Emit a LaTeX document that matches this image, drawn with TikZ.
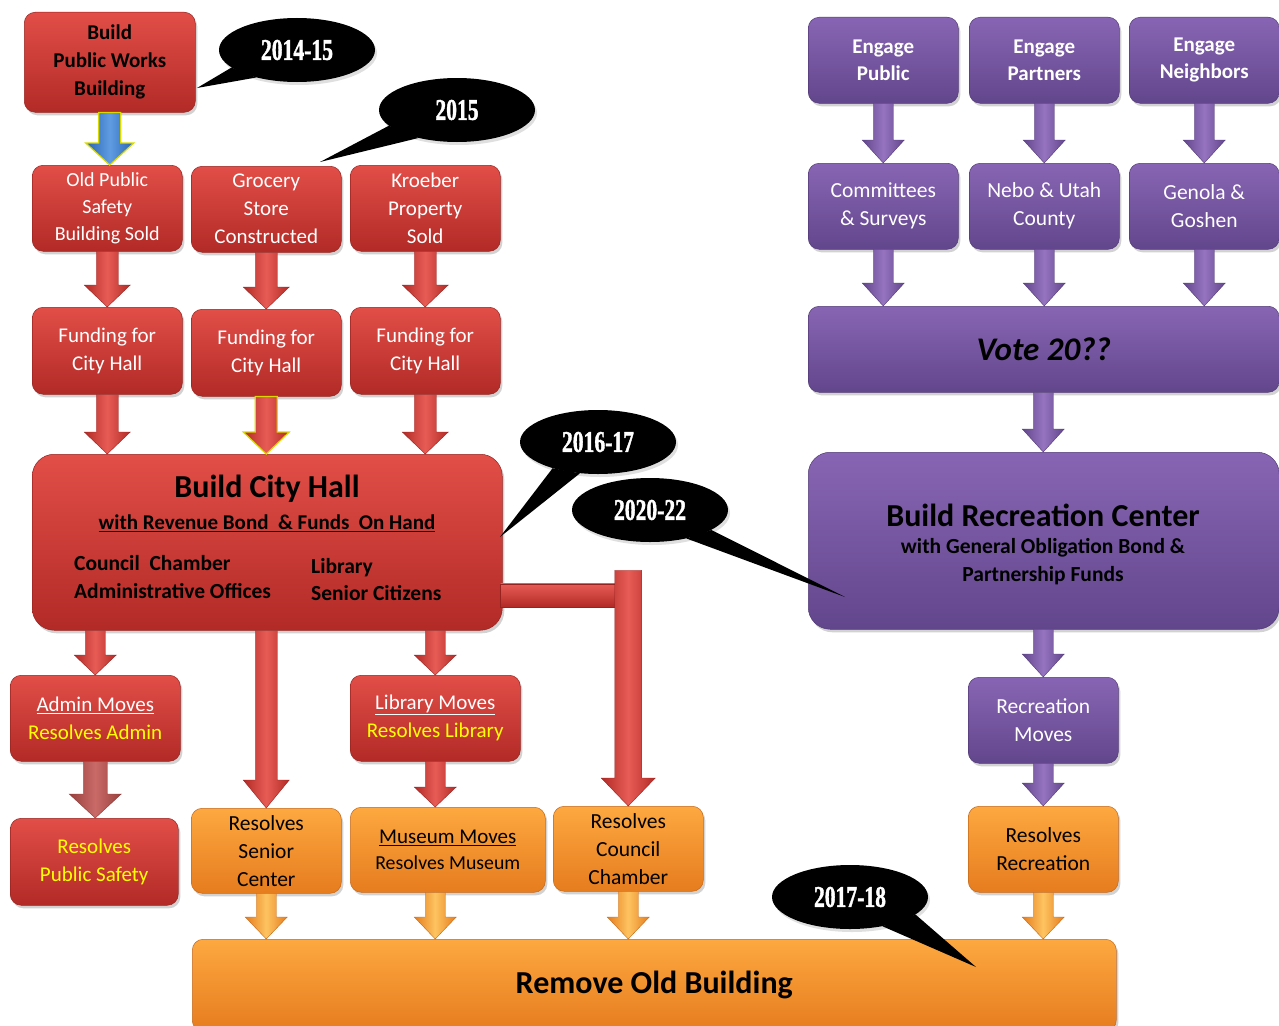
\documentclass[tikz,border=0pt]{standalone}
\usepackage{fontspec}
\setmainfont{Carlito}
\newfontfamily\calfont[BoldFeatures={FakeBold=1.6}]{Liberation Serif}
\usetikzlibrary{shapes.geometric,shadows,calc}

\definecolor{redT}{RGB}{226,78,72}
\definecolor{redB}{RGB}{178,42,38}
\definecolor{redE}{RGB}{150,35,32}
\definecolor{redM}{RGB}{232,92,86}
\definecolor{purT}{RGB}{136,101,180}
\definecolor{purB}{RGB}{98,70,140}
\definecolor{purE}{RGB}{82,58,118}
\definecolor{purM}{RGB}{150,116,192}
\definecolor{orT}{RGB}{253,168,64}
\definecolor{orB}{RGB}{230,124,30}
\definecolor{orE}{RGB}{196,104,24}
\definecolor{orM}{RGB}{253,196,96}
\definecolor{pale}{RGB}{192,80,77}
\definecolor{blueA}{RGB}{40,100,182}
\definecolor{blueM}{RGB}{96,156,224}
\definecolor{yel}{RGB}{255,255,0}

\newcommand\varrow[6]{%
  \path[#3] let \p1=(#1), \p2=(#2) in
   (\x2-#4pt,\y1) -- (\x2+#4pt,\y1) -- (\x2+#4pt,\y2+#6pt) -- (\x2+#5pt,\y2+#6pt)
   -- (\x2,\y2) -- (\x2-#5pt,\y2+#6pt) -- (\x2-#4pt,\y2+#6pt) -- cycle;}

\tikzset{
  box/.style={rounded corners=11pt, minimum width=150pt, minimum height=86pt,
    anchor=north west, align=center, inner sep=0pt,
    drop shadow={shadow xshift=2pt,shadow yshift=-3pt,opacity=0.35}},
  redbox/.style={box, top color=redT, bottom color=redB, draw=redE, line width=0.5pt, text=white},
  purbox/.style={box, top color=purT, bottom color=purB, draw=purE, line width=0.5pt, text=white},
  orbox/.style={box, top color=orT, bottom color=orB, draw=orE, line width=0.5pt, text=black},
  f20/.style={font=\fontsize{20}{27}\selectfont},
  f21/.style={font=\fontsize{21}{28}\selectfont},
  f215/.style={font=\fontsize{21.5}{28}\selectfont},
  b21/.style={font=\fontsize{21}{27}\selectfont\bfseries},
  txt/.style={inner sep=0pt, align=center},
  redarrow/.style={left color=redB, right color=redB, middle color=redM, draw=redE, line width=0.4pt},
  yredarrow/.style={left color=redB, right color=redB, middle color=redM, draw=yel!85!black, line width=1.2pt},
  palearrow/.style={left color=pale!80!black, right color=pale!80!black, middle color=pale!85!white, draw=pale!70!black, line width=0.4pt},
  bluearrow/.style={left color=blueA, right color=blueA, middle color=blueM, draw=yel!85!black, line width=1.2pt},
  purarrow/.style={left color=purB, right color=purB, middle color=purM, draw=purE, line width=0.4pt},
  orarrow/.style={left color=orB, right color=orB, middle color=orM, draw=orE, line width=0.4pt},
  callout/.style={ellipse, fill=black, minimum width=156pt, minimum height=64pt, inner sep=0pt,
    text=white, font=\calfont\bfseries\fontsize{30}{30}\selectfont,
    drop shadow={shadow xshift=2pt,shadow yshift=-3pt,opacity=0.25}},
}

\begin{document}
\begin{tikzpicture}[x=1pt,y=-1pt]
\fill[white] (0,0) rectangle (1279,1025);
\useasboundingbox (0,0) rectangle (1279,1025);

% ---------- red column ----------
\node[redbox, minimum width=171pt, minimum height=100pt, text=black,
      font=\fontsize{21}{28}\selectfont\bfseries] (pw) at (24,12) {Build\\Public Works\\Building};
\node[redbox, f20] (ops) at (32,165) {Old Public\\Safety\\Building Sold};
\node[redbox, f21] (groc) at (191,166) {Grocery\\Store\\Constructed};
\node[redbox, f21] (kro) at (350,165) {Kroeber\\Property\\Sold};
\node[redbox, f21, minimum height=87pt] (f1) at (32,307) {Funding for\\City Hall};
\node[redbox, f21, minimum height=87pt] (f2) at (191,309) {Funding for\\City Hall};
\node[redbox, f21, minimum height=87pt] (f3) at (350,307) {Funding for\\City Hall};
\node[redbox, minimum width=470pt, minimum height=176pt, rounded corners=22pt] (ch) at (32,454) {};
\node[txt, font=\fontsize{32}{36}\selectfont\bfseries] (chT) at (267,489) {Build City Hall};
\node[txt, font=\fontsize{21}{28}\selectfont\bfseries] (chS) at (267,523) {\underline{with Revenue Bond \ \& Funds \ On Hand}};
\node[txt, anchor=west, align=left, font=\fontsize{21.5}{28}\selectfont\bfseries] (chL) at (74,577) {Council \ Chamber\\Administrative Offices};
\node[txt, anchor=west, align=left, font=\fontsize{21.5}{27}\selectfont\bfseries] (chR) at (311,580) {Library\\Senior Citizens};

\node[redbox, f21, minimum width=170pt] (adm) at (10,675) {\underline{Admin Moves}\\\textcolor{yel}{Resolves Admin}};
\node[redbox, f21, minimum width=170pt] (lib) at (350,675) {\underline{Library Moves}\\\textcolor{yel}{Resolves Library}};
\node[redbox, f21, minimum width=168pt, minimum height=87pt, text=yel] (rps) at (10,818) {Resolves\\Public Safety};

\node[orbox, f215, minimum height=85pt] (rsc) at (191,808) {Resolves\\Senior\\Center};
\node[orbox, minimum width=195pt, minimum height=85pt, font=\fontsize{19.8}{26}\selectfont] (mus) at (350,807) {{\fontsize{21}{26}\selectfont\underline{Museum Moves}}\\Resolves Museum};
\node[orbox, f215, minimum height=85pt] (rcc) at (553,806) {Resolves\\Council\\Chamber};
\node[orbox, minimum width=924pt, minimum height=92pt, font=\fontsize{32}{36}\selectfont\bfseries] (rob) at (192,939) {Remove Old Building};

% ---------- purple column ----------
\node[purbox, b21] (ep) at (808,17) {Engage\\Public};
\node[purbox, b21] (epa) at (969,17) {Engage\\Partners};
\node[purbox, b21] (en) at (1129,17) {Engage\\Neighbors};
\node[purbox, f215] (cs) at (808,163) {Committees\\\& Surveys};
\node[purbox, f215] (nu) at (969,163) {Nebo \& Utah\\County};
\node[purbox, f215] (gg) at (1129,163) {Genola \&\\Goshen};
\node[purbox, minimum width=471pt, text=black, font=\fontsize{33}{36}\selectfont\bfseries\itshape] (vote) at (808,306) {Vote 20??};
\node[purbox, minimum width=471pt, minimum height=177pt, rounded corners=22pt] (brc) at (808,452) {};
\node[txt, font=\fontsize{32}{36}\selectfont\bfseries] (brcT) at (1043,515) {Build Recreation Center};
\node[txt, font=\fontsize{21.5}{28}\selectfont\bfseries] (brcS) at (1043,562) {with General Obligation Bond \&\\Partnership Funds};
\node[purbox, f215] (rm) at (968,677) {Recreation\\Moves};
\node[orbox, f215] (rr) at (968,806) {Resolves\\Recreation};

% ---------- arrows ----------
\varrow{pw.south}{pw.south |- ops.north}{bluearrow}{11}{24}{22}
\varrow{ops.south}{f1.north}{redarrow}{11}{23}{22}
\varrow{groc.south}{f2.north}{redarrow}{11}{23}{22}
\varrow{kro.south}{f3.north}{redarrow}{11}{23}{22}
\varrow{f1.south}{f1.south |- ch.north}{redarrow}{11}{23}{22}
\varrow{f2.south}{f2.south |- ch.north}{yredarrow}{11}{23}{22}
\varrow{f3.south}{f3.south |- ch.north}{redarrow}{11}{23}{22}
\varrow{ch.south}{adm.north}{redarrow}{10}{21}{20}
\varrow{ch.south}{rsc.north}{redarrow}{11}{23}{28}
\varrow{ch.south}{lib.north}{redarrow}{10}{21}{20}
\varrow{adm.south}{adm.south |- rps.north}{palearrow}{12}{26}{24}
\varrow{lib.south}{lib.south |- mus.north}{redarrow}{10}{21}{20}
\varrow{rsc.south}{rsc.south |- rob.north}{orarrow}{10}{21}{22}
\varrow{mus.south}{lib.south |- rob.north}{orarrow}{10}{21}{22}
\varrow{rcc.south}{rcc.south |- rob.north}{orarrow}{10}{21}{22}

\coordinate (lbar) at ([yshift=-53pt]ch.east);
\path[top color=redM, bottom color=redB, draw=redE, line width=0.4pt] let \p1=(lbar), \p2=(rcc.north) in
  (\x1-2pt,\y1+11.5pt) -- (\x2-13.5pt,\y1+11.5pt) -- (\x2-13.5pt,\y1-11.5pt) -- (\x1-2pt,\y1-11.5pt) -- cycle;
\varrow{[yshift=25pt]lbar -| rcc.north}{rcc.north}{redarrow}{13.5}{27}{28}

\varrow{ep.south}{cs.north}{purarrow}{10}{21}{23}
\varrow{epa.south}{nu.north}{purarrow}{10}{21}{23}
\varrow{en.south}{gg.north}{purarrow}{10}{21}{23}
\varrow{cs.south}{cs.south |- vote.north}{purarrow}{10}{21}{23}
\varrow{nu.south}{nu.south |- vote.north}{purarrow}{10}{21}{23}
\varrow{gg.south}{gg.south |- vote.north}{purarrow}{10}{21}{23}
\varrow{vote.south}{rm.north |- brc.north}{purarrow}{10}{21}{23}
\varrow{brc.south}{rm.north}{purarrow}{10}{21}{23}
\varrow{rm.south}{rr.north}{purarrow}{10}{21}{23}
\varrow{rr.south}{rr.south |- rob.north}{orarrow}{10}{21}{22}

% ---------- callouts ----------
\node[callout] (c1) at (297,50) {\scalebox{0.72}[1]{2014-15}};
\coordinate (t1) at (197,88);
\fill[black] (c1.195) -- (c1.214) -- (t1) -- cycle;

\node[callout] (c2) at (457,110) {\scalebox{0.72}[1]{2015}};
\coordinate (t2) at (320,162);
\fill[black] (c2.193) -- (c2.216) -- (t2) -- cycle;

\node[callout] (c3) at (598,442) {\scalebox{0.72}[1]{2016-17}};
\coordinate (t3) at (500,537);
\fill[black] (c3.210) -- (c3.240) -- (t3) -- cycle;

\node[callout] (c4) at (650,510) {\scalebox{0.72}[1]{2020-22}};
\coordinate (t4) at (845,597);
\fill[black] (c4.322) -- (c4.342) -- (t4) -- cycle;

\node[callout] (c5) at (850,897) {\scalebox{0.72}[1]{2017-18}};
\coordinate (t5) at (976,967);
\fill[black] (c5.318) -- (c5.345) -- (t5) -- cycle;
\end{tikzpicture}
\end{document}
